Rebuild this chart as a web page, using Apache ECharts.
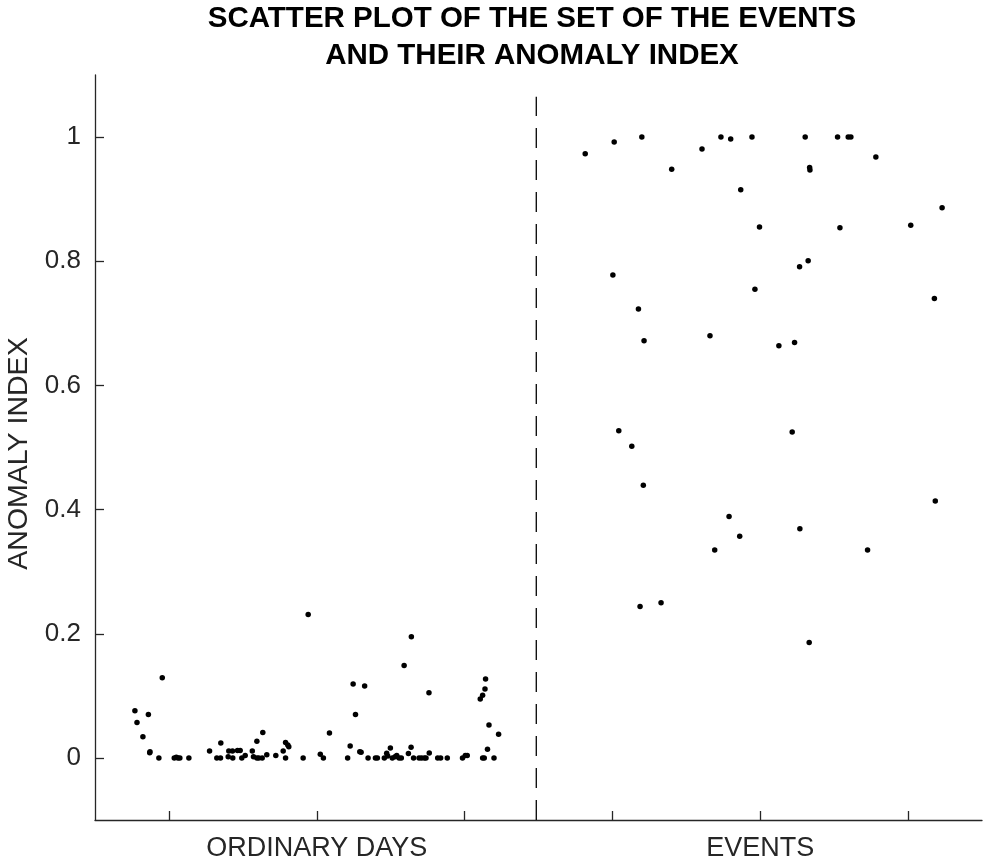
<!DOCTYPE html>
<html>
<head>
<meta charset="utf-8">
<script src="https://cdn.jsdelivr.net/npm/echarts@6/dist/echarts.min.js"></script>
<style>html,body{margin:0;padding:0;background:#fff}#c{width:992px;height:866px}</style>
</head>
<body>
<div id="c"></div>
<script>
var titleLines = ['SCATTER PLOT OF THE SET OF THE EVENTS', 'AND THEIR ANOMALY INDEX'];
var yAxisName = 'ANOMALY INDEX';
var xTicks = [1, 2, 3, 4, 5, 6];
var xTickLabels = ['', 'ORDINARY DAYS', '', '', 'EVENTS', ''];
var yTicks = [0, 0.2, 0.4, 0.6, 0.8, 1];
var yTickLabels = ['0', '0.2', '0.4', '0.6', '0.8', '1'];
var dividerX = 3.485;
var dividerY = [-0.1, 1.065];

var ordinaryX = [0.770,0.784,0.861,0.824,0.870,0.872,0.955,0.932,1.036,1.050,1.061,1.074,1.135,1.275,1.324,1.349,1.351,1.401,1.405,1.430,1.432,1.464,1.482,1.493,1.516,1.564,1.572,1.595,1.608,1.631,1.595,1.635,1.662,1.723,1.773,1.789,1.804,1.811,1.789,1.908,1.942,2.024,2.045,2.086,2.209,2.226,2.246,2.262,2.291,2.300,2.324,2.347,2.397,2.410,2.457,2.473,2.480,2.498,2.511,2.530,2.541,2.557,2.572,2.591,2.620,2.640,2.638,2.655,2.692,2.709,2.728,2.739,2.759,2.761,2.818,2.838,2.883,2.986,3.005,3.018,3.106,3.122,3.138,3.142,3.122,3.133,3.155,3.165,3.199,3.230];
var ordinaryY = [0.076,0.057,0.070,0.034,0.0085,0.010,0.129,0,0,0.001,0,0,0,0.011,0,0,0.024,0.002,0.011,0.011,0,0.012,0.012,0,0.004,0.011,0.002,0,0,0,0.027,0.041,0.005,0.004,0.011,0.025,0.021,0.018,0,0,0.231,0.006,0,0.040,0,0.019,0.119,0.070,0.010,0.009,0.116,0,0,0,0,0.0075,0.003,0.016,0,0.002,0.004,0,0,0.149,0.007,0.195,0.017,0,0,0,0,0,0.105,0.008,0,0,0,0,0.004,0.004,0.095,0.101,0.111,0.127,0,0,0.014,0.053,0,0.038];

var eventX = [3.816,4.012,4.199,4.401,4.606,4.734,4.800,4.944,4.868,4.995,4.003,4.964,4.176,4.660,4.214,5.304,5.523,5.595,5.613,5.782,5.334,5.336,6.230,5.539,6.018,5.324,5.266,6.178,5.126,5.232,4.043,4.131,4.209,4.789,4.861,4.692,4.187,4.329,5.216,6.184,5.268,5.726,5.331];
var eventY = [0.973,0.992,1.0,0.948,0.981,1.0,0.997,1.0,0.915,0.855,0.778,0.755,0.723,0.680,0.672,1.0,1.0,1.0,1.0,0.968,0.951,0.947,0.886,0.854,0.858,0.801,0.791,0.740,0.664,0.669,0.527,0.502,0.439,0.389,0.357,0.335,0.244,0.250,0.525,0.414,0.369,0.335,0.186];

function zip(a, b) { return a.map(function (v, i) { return [v, b[i]]; }); }
var txt = '#262626';
var chart = echarts.init(document.getElementById('c'));
chart.setOption({
  animation: false,
  backgroundColor: '#fff',
  title: {
    text: titleLines.join('\n'),
    left: 532, top: 0, padding: 0, textAlign: 'center',
    textStyle: { fontFamily: 'Liberation Sans, Arial', fontWeight: 'bold', fontSize: 29.5, lineHeight: 37, color: '#000' }
  },
  grid: { left: 95, right: 10, top: 75, bottom: 46, containLabel: false, outerBoundsMode: 'none' },
  xAxis: {
    type: 'value', min: 0.5, max: 6.5,
    axisLine: { show: true, onZero: false, lineStyle: { color: txt, width: 1.3 } },
    axisTick: { show: true, inside: true, length: 9, customValues: xTicks, lineStyle: { color: txt, width: 1.3 } },
    axisLabel: {
      customValues: xTicks, margin: 15, fontFamily: 'Liberation Sans, Arial', fontSize: 27, color: txt,
      formatter: function (v) { var i = xTicks.indexOf(Math.round(v)); return i >= 0 ? xTickLabels[i] : ''; }
    },
    splitLine: { show: false }
  },
  yAxis: {
    type: 'value', min: -0.1, max: 1.1,
    name: yAxisName, nameLocation: 'middle', nameGap: 57, nameRotate: 90,
    nameTextStyle: { fontFamily: 'Liberation Sans, Arial', fontSize: 28.5, color: txt, padding: [0, 12, 0, 0] },
    axisLine: { show: true, onZero: false, lineStyle: { color: txt, width: 1.3 } },
    axisTick: { show: true, inside: true, length: 9, customValues: yTicks, lineStyle: { color: txt, width: 1.3 } },
    axisLabel: {
      customValues: yTicks, margin: 14, fontFamily: 'Liberation Sans, Arial', fontSize: 26, color: txt,
      formatter: function (v) { for (var i = 0; i < yTicks.length; i++) { if (Math.abs(yTicks[i] - v) < 1e-6) return yTickLabels[i]; } return ''; }
    },
    splitLine: { show: false }
  },
  series: [
    {
      type: 'line', data: [[dividerX, dividerY[0]], [dividerX, dividerY[1]]],
      symbol: 'none', silent: true,
      lineStyle: { color: '#000', width: 1.3, type: [20, 12] }
    },
    {
      type: 'scatter', data: zip(ordinaryX, ordinaryY), symbolSize: 5.5,
      itemStyle: { color: '#000', opacity: 1 }
    },
    {
      type: 'scatter', data: zip(eventX, eventY), symbolSize: 5.5,
      itemStyle: { color: '#000', opacity: 1 }
    }
  ]
});
</script>
</body>
</html>
